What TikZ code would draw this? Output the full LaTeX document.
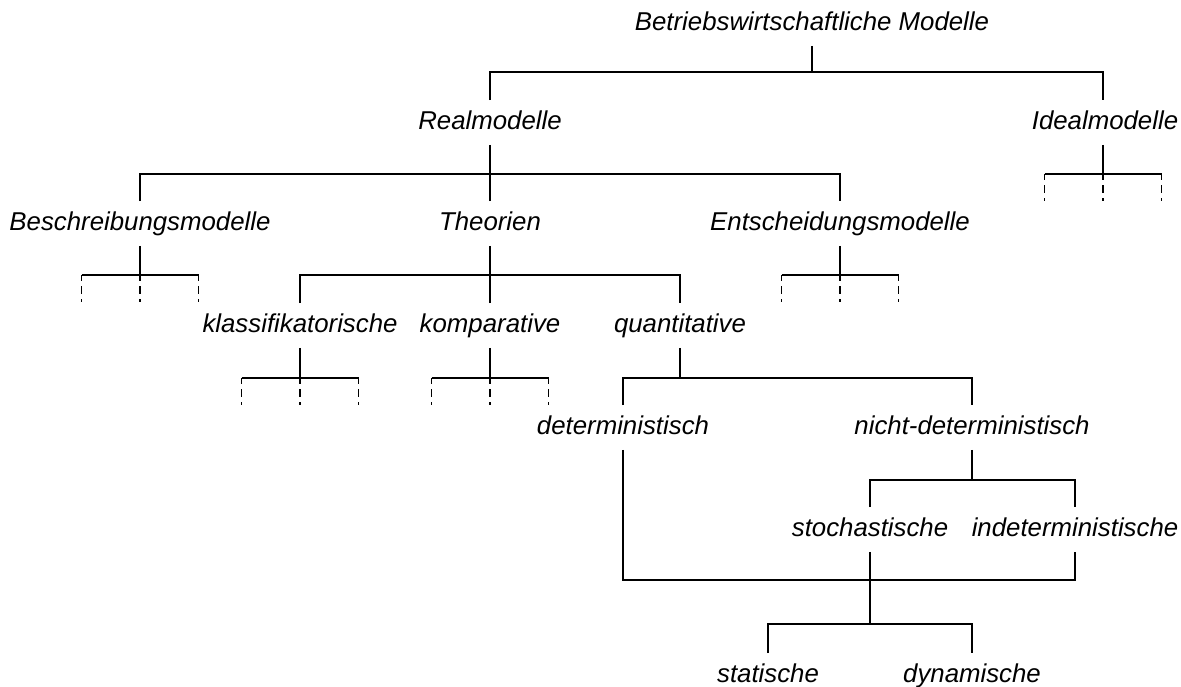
\documentclass[tikz,border=0pt]{standalone}
\usepackage{fontspec}
\setmainfont{Liberation Sans}

\begin{document}
\begin{tikzpicture}[x=1pt, y=-1pt, line width=1.9pt,
  every node/.style={font=\fontsize{25.8}{30}\selectfont\itshape, inner xsep=0pt, inner ysep=9.5pt, text height=18.5pt, text depth=5.5pt},
  stub/.style={dash pattern=on 6pt off 5pt on 8pt off 5pt on 3pt}]

\useasboundingbox (0,0) rectangle (1181,686);

% Nodes
\node (top) at (812,23.5) {Betriebswirtschaftliche Modelle};
\node (real) at (490,122.5) {Realmodelle};
\node (ideal) at (1105,122.5) {Idealmodelle};
\node (besch) at (140,223.5) {Beschreibungsmodelle};
\node (theo) at (490,223.5) {Theorien};
\node (ents) at (840,223.5) {Entscheidungsmodelle};
\node (klass) at (300,325.5) {klassifikatorische};
\node (komp) at (490,325.5) {komparative};
\node (quant) at (680,325.5) {quantitative};
\node (det) at (623,427.5) {deterministisch};
\node (ndet) at (972,427.5) {nicht-deterministisch};
\node (stoch) at (870,529.5) {stochastische};
\node (indet) at (1075,529.5) {indeterministische};
\node (stat) at (768,675.5) {statische};
\node (dyn) at (972,675.5) {dynamische};

% Bars
\coordinate (b0) at (812,72);
\coordinate (b1) at (490,174);
\coordinate (bi) at (1103,174);
\coordinate (bb) at (140,275);
\coordinate (bt) at (490,275);
\coordinate (be) at (840,275);
\coordinate (bk) at (300,378);
\coordinate (bc) at (490,378);
\coordinate (bq) at (680,378);
\coordinate (bn) at (972,480);
\coordinate (bm) at (870,580);
\coordinate (bs) at (870,624);

% Connectors
\draw (top.south) -- (b0);
\draw (real.north) |- (b0) -| (bi |- ideal.north);
\draw (real.south) -- (b1);
\draw (besch.north) |- (b1) -| (ents.north);
\draw (theo.north) -- (b1);
\draw (theo.south) -- (bt);
\draw (klass.north) |- (bt) -| (quant.north);
\draw (komp.north) -- (bt);
\draw (quant.south) -- (bq);
\draw (det.north) |- (bq) -| (ndet.north);
\draw (ndet.south) -- (bn);
\draw (stoch.north) |- (bn) -| (indet.north);
\draw (det.south) |- (bm) -| (indet.south);
\draw (stoch.south) -- (bs);
\draw (stat.north) |- (bs) -| (dyn.north);

% Open branches
\foreach \b/\n in {bi/ideal, bb/besch, be/ents, bk/klass, bc/komp} {
  \draw (\b |- \n.south) -- (\b);
  \draw ([xshift=-58.5pt]\b) -- ([xshift=58.5pt]\b);
  \foreach \dx in {-58.5,0,58.5}
    \draw[stub] ([xshift=\dx pt]\b) -- ++(0,27);
}

\end{tikzpicture}
\end{document}
